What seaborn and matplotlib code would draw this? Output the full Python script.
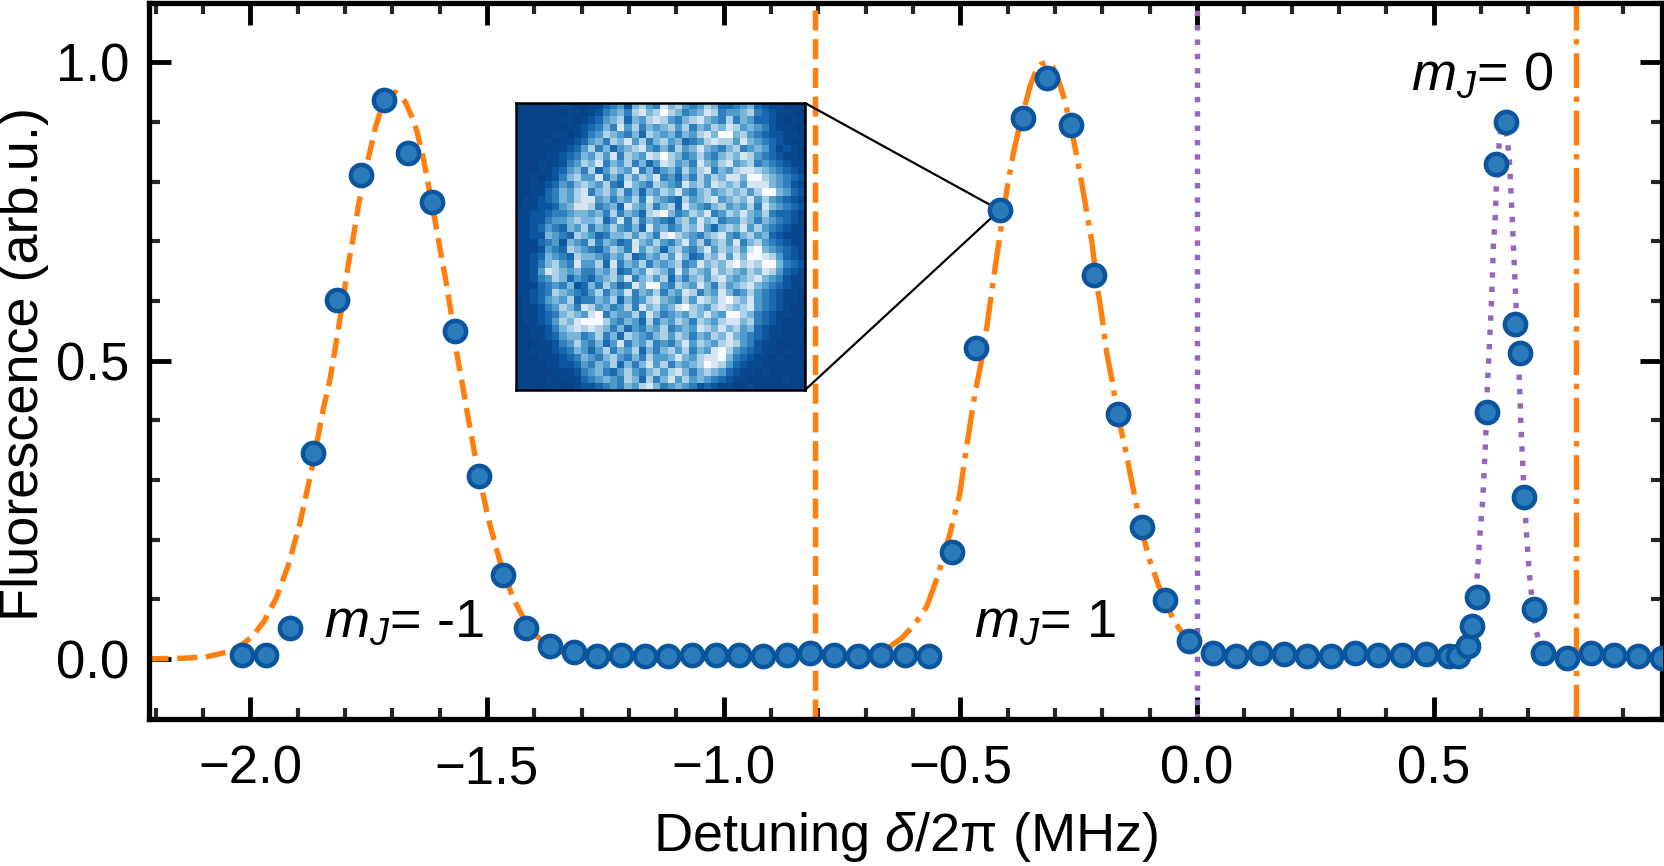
import numpy as np
import pandas as pd
import seaborn as sns
import matplotlib.pyplot as plt
from matplotlib.patches import ConnectionPatch
from matplotlib.ticker import MultipleLocator

# measured points
detuning = [
    -2.017, -1.967, -1.917, -1.867, -1.817, -1.767, -1.717, -1.667, -1.617, -1.567,
    -1.517, -1.467, -1.417, -1.367, -1.317, -1.267, -1.217, -1.167, -1.117, -1.067,
    -1.017, -0.967, -0.917, -0.867, -0.817, -0.767, -0.717, -0.667, -0.617, -0.567,
    -0.517, -0.467, -0.417, -0.367, -0.317, -0.267, -0.217, -0.167, -0.117, -0.067,
    -0.017, 0.033, 0.083, 0.133, 0.183, 0.233, 0.283, 0.333, 0.383, 0.433,
    0.483, 0.533, 0.551, 0.572, 0.581, 0.591, 0.612, 0.632, 0.652, 0.672,
    0.682, 0.691, 0.711, 0.731, 0.781, 0.831, 0.881, 0.931, 0.981,
]
fluorescence = [
    0.007, 0.007, 0.052, 0.345, 0.602, 0.811, 0.937, 0.848, 0.765, 0.549,
    0.306, 0.140, 0.052, 0.021, 0.011, 0.005, 0.007, 0.004, 0.004, 0.007,
    0.007, 0.007, 0.005, 0.007, 0.009, 0.007, 0.004, 0.007, 0.007, 0.005,
    0.179, 0.521, 0.752, 0.907, 0.974, 0.894, 0.644, 0.411, 0.221, 0.098,
    0.030, 0.009, 0.005, 0.009, 0.008, 0.005, 0.005, 0.009, 0.007, 0.007,
    0.008, 0.004, 0.004, 0.022, 0.055, 0.103, 0.414, 0.830, 0.899, 0.562,
    0.513, 0.272, 0.084, 0.010, 0.001, 0.009, 0.007, 0.005, 0.002,
]

# fitted curves
fit1_x = [
    -2.215, -2.145, -2.095, -2.045, -2.020, -1.995, -1.970, -1.945, -1.920, -1.895,
    -1.870, -1.846, -1.831, -1.821, -1.812, -1.803, -1.793, -1.782, -1.772, -1.760,
    -1.748, -1.735, -1.726, -1.710, -1.694, -1.673, -1.659, -1.648, -1.634, -1.624,
    -1.609, -1.599, -1.588, -1.578, -1.564, -1.553, -1.543, -1.520, -1.495, -1.470,
    -1.445, -1.420, -1.395, -1.370, -1.345, -1.295, -1.245, -1.195, -0.810,
]
fit1_y = [
    0.000, 0.001, 0.003, 0.012, 0.022, 0.038, 0.064, 0.102, 0.156, 0.228,
    0.318, 0.418, 0.471, 0.518, 0.563, 0.607, 0.661, 0.708, 0.758, 0.805,
    0.848, 0.893, 0.915, 0.940, 0.950, 0.934, 0.909, 0.884, 0.837, 0.795,
    0.731, 0.686, 0.639, 0.591, 0.513, 0.465, 0.418, 0.318, 0.228, 0.156,
    0.102, 0.064, 0.038, 0.022, 0.012, 0.003, 0.001, 0.000, 0.000,
]
fit2_x = [
    -0.660, -0.648, -0.625, -0.603, -0.585, -0.571, -0.549, -0.522, -0.501, -0.488,
    -0.469, -0.455, -0.444, -0.434, -0.425, -0.413, -0.399, -0.388, -0.375, -0.362,
    -0.353, -0.342, -0.330, -0.317, -0.305, -0.293, -0.279, -0.265, -0.254, -0.244,
    -0.233, -0.222, -0.212, -0.201, -0.191, -0.180, -0.168, -0.150, -0.119, -0.100,
    -0.080, -0.067, -0.050, -0.020, 0.000,
]
fit2_y = [
    0.012, 0.021, 0.034, 0.052, 0.071, 0.088, 0.136, 0.210, 0.278, 0.350,
    0.446, 0.501, 0.557, 0.614, 0.665, 0.728, 0.800, 0.848, 0.893, 0.932,
    0.960, 0.982, 0.996, 1.000, 0.992, 0.971, 0.934, 0.885, 0.842, 0.798,
    0.748, 0.697, 0.630, 0.574, 0.513, 0.468, 0.411, 0.345, 0.221, 0.165,
    0.120, 0.098, 0.065, 0.030, 0.018,
]
fit3_x = [
    0.540, 0.560, 0.575, 0.585, 0.592, 0.598, 0.603, 0.606, 0.609, 0.613,
    0.616, 0.619, 0.622, 0.626, 0.630, 0.632, 0.638, 0.645, 0.650, 0.655,
    0.659, 0.662, 0.665, 0.669, 0.673, 0.677, 0.681, 0.684, 0.687, 0.690,
    0.695, 0.699, 0.704, 0.715, 0.722, 0.735, 0.750,
]
fit3_y = [
    0.003, 0.012, 0.035, 0.080, 0.143, 0.215, 0.263, 0.311, 0.359, 0.455,
    0.503, 0.552, 0.600, 0.696, 0.743, 0.792, 0.863, 0.905, 0.900, 0.869,
    0.845, 0.798, 0.749, 0.677, 0.606, 0.532, 0.461, 0.389, 0.340, 0.292,
    0.220, 0.172, 0.124, 0.052, 0.029, 0.010, 0.002,
]

# resonance positions
res_minus = -0.807
res_zero = 0.0
res_plus = 0.8

xticks = [-2.0, -1.5, -1.0, -0.5, 0.0, 0.5]
yticks = [0.0, 0.5, 1.0]

# fluorescence image, brightness by eye on a coarse grid
image_rows = [
    "0000001100 1134526754 8675457633 4563211000",
    "0000000110 1245647867 9764568745 5674321100",
    "0000001101 2356736578 7546786547 4653321010",
    "0000000112 3464857465 6757465768 7565421100",
    "0000011012 4576546376 5646578699 6754322110",
    "0000101123 5647685746 7563457877 5865432100",
    "0000011235 7463567854 6475686546 7456531210",
    "0000112346 5758476587 9764575467 6875432110",
    "0001012457 6846574635 8756486578 5674543211",
    "0001123564 7357658463 5647578465 7887654321",
    "0010124675 5846475768 4536475768 8699765432",
    "0011235467 6574386547 6548675876 7588865421",
    "0011346578 4675746365 7685467567 6757996532",
    "0112346578 8564657486 5437567856 7685754321",
    "0112235688 7456386574 6738654675 6574865432",
    "1122344566 5647465378 9645768457 6865743321",
    "1122455676 6735847465 4367586745 5764654321",
    "1123543657 4657546385 6457685367 6857543211",
    "1122654376 5346675764 8976546785 4675632111",
    "1113452654 7465348657 5468574675 8467543211",
    "1112543765 4357648576 3675468576 7589654321",
    "1123654376 6546573465 7586347685 8699875321",
    "1124675485 5738465746 5674586768 9787996432",
    "1125876564 4657346587 6485765867 6576875321",
    "1124576354 3567584675 7364675786 5678654211",
    "1113454623 6475348699 5476586475 6786543211",
    "1123476543 5746584657 4658746586 4575432110",
    "0123565734 4657364578 6547587689 7685432110",
    "0112457648 7564574867 5689765787 6785432100",
    "0112346765 8946557486 4565768659 9764321100",
    "0112357689 9975465374 6576476578 8674321000",
    "0011246787 8764635465 7456587686 7563211000",
    "0011235664 5746376546 7576465768 6543211000",
    "0001124575 4635846574 5468576578 7542110000",
    "0011123465 3574657364 6757465897 5432110100",
    "0001112346 5467546475 5686578896 4321101000",
    "0000112235 4657364685 7465679875 3211000000",
    "0000011124 5643575467 5786467653 2110100000",
    "0000101113 4565476374 6857565432 1100000100",
    "0000010012 2345465786 4565423211 0010000000",
]

sns.set_style("ticks")
plt.rcParams["font.family"] = ["Liberation Sans", "DejaVu Sans"]
plt.rcParams["mathtext.fontset"] = "custom"
plt.rcParams["mathtext.rm"] = "Liberation Sans"
plt.rcParams["mathtext.it"] = "Liberation Sans:italic"
plt.rcParams["axes.unicode_minus"] = True
plt.rcParams["text.color"] = "black"
plt.rcParams["axes.labelcolor"] = "black"
plt.rcParams["xtick.labelcolor"] = "black"
plt.rcParams["ytick.labelcolor"] = "black"

orange = "#ff7f0e"
purple = "#9467bd"
lw = 3.9
W, H = 1664, 866

fig = plt.figure(figsize=(W / 100, H / 100), dpi=100)
ax = fig.add_axes([148.5 / W, 1 - 718.5 / H, (1662 - 148.5) / W, (718.5 - 2.5) / H])

sns.lineplot(x=fit1_x, y=fit1_y, color=orange, linewidth=lw, linestyle="--",
             sort=False, errorbar=None, ax=ax)
sns.lineplot(x=fit2_x, y=fit2_y, color=orange, linewidth=lw, linestyle="-.",
             sort=False, errorbar=None, ax=ax)
sns.lineplot(x=fit3_x, y=fit3_y, color=purple, linewidth=lw, linestyle=":",
             sort=False, errorbar=None, ax=ax)

ax.axvline(res_minus, color=orange, linewidth=lw, linestyle="--")
ax.axvline(res_zero, color=purple, linewidth=lw, linestyle=":")
ax.axvline(res_plus, color=orange, linewidth=lw, linestyle="-.")

points = pd.DataFrame({"x": detuning, "y": fluorescence})
sns.scatterplot(data=points, x="x", y="y", s=235, color="#2b7bba", edgecolor="#0b559f",
                linewidth=3.2, zorder=5, ax=ax)

ax.set_xlim(-2.215, 0.982)
ax.set_ylim(-0.1, 1.1)
ax.set_xticks(xticks)
ax.set_yticks(yticks)
ax.xaxis.set_minor_locator(MultipleLocator(0.1))
ax.yaxis.set_minor_locator(MultipleLocator(0.1))
ax.tick_params(which="major", direction="in", top=True, right=True, length=15.5, width=3.5,
               labelsize=38, color="black")
ax.tick_params(which="minor", direction="in", top=True, right=True, length=8, width=3)
ax.tick_params(axis="x", which="major", pad=19)
ax.tick_params(axis="y", which="major", pad=14)
for side in ax.spines.values():
    side.set_linewidth(3.8)
    side.set_color("black")

ax.set_xlabel(r"Detuning $\delta$/2π (MHz)", fontsize=39, labelpad=11)
ax.set_ylabel("Fluorescence (arb.u.)", fontsize=39, labelpad=5, y=0.495)

ax.text(-1.845, 0.037, r"$m_J$= -1", fontsize=39, zorder=6)
ax.text(-0.471, 0.037, r"$m_J$= 1", fontsize=39, zorder=6)
ax.text(0.452, 0.954, r"$m_J$= 0", fontsize=39, zorder=6)

# inset image with the lines to its data point
image = np.array([[int(c) / 9 for c in row.replace(" ", "")] for row in image_rows])
inset = fig.add_axes([516 / W, 1 - 390 / H, 289 / W, 287 / H])
inset.imshow(image ** 1.7, cmap="Blues_r", vmin=-0.08, vmax=1.0, aspect="auto", interpolation="nearest")
inset.set_xticks([])
inset.set_yticks([])
for side in inset.spines.values():
    side.set_linewidth(1.8)
    side.set_color("black")

for corner in [(1, 1), (1, 0)]:
    con = ConnectionPatch(xyA=corner, coordsA=inset.transAxes, xyB=(detuning[32], fluorescence[32]),
                          coordsB=ax.transData, color="black", linewidth=1.6, zorder=4)
    ax.add_artist(con)

plt.savefig("out.png", dpi=100)
